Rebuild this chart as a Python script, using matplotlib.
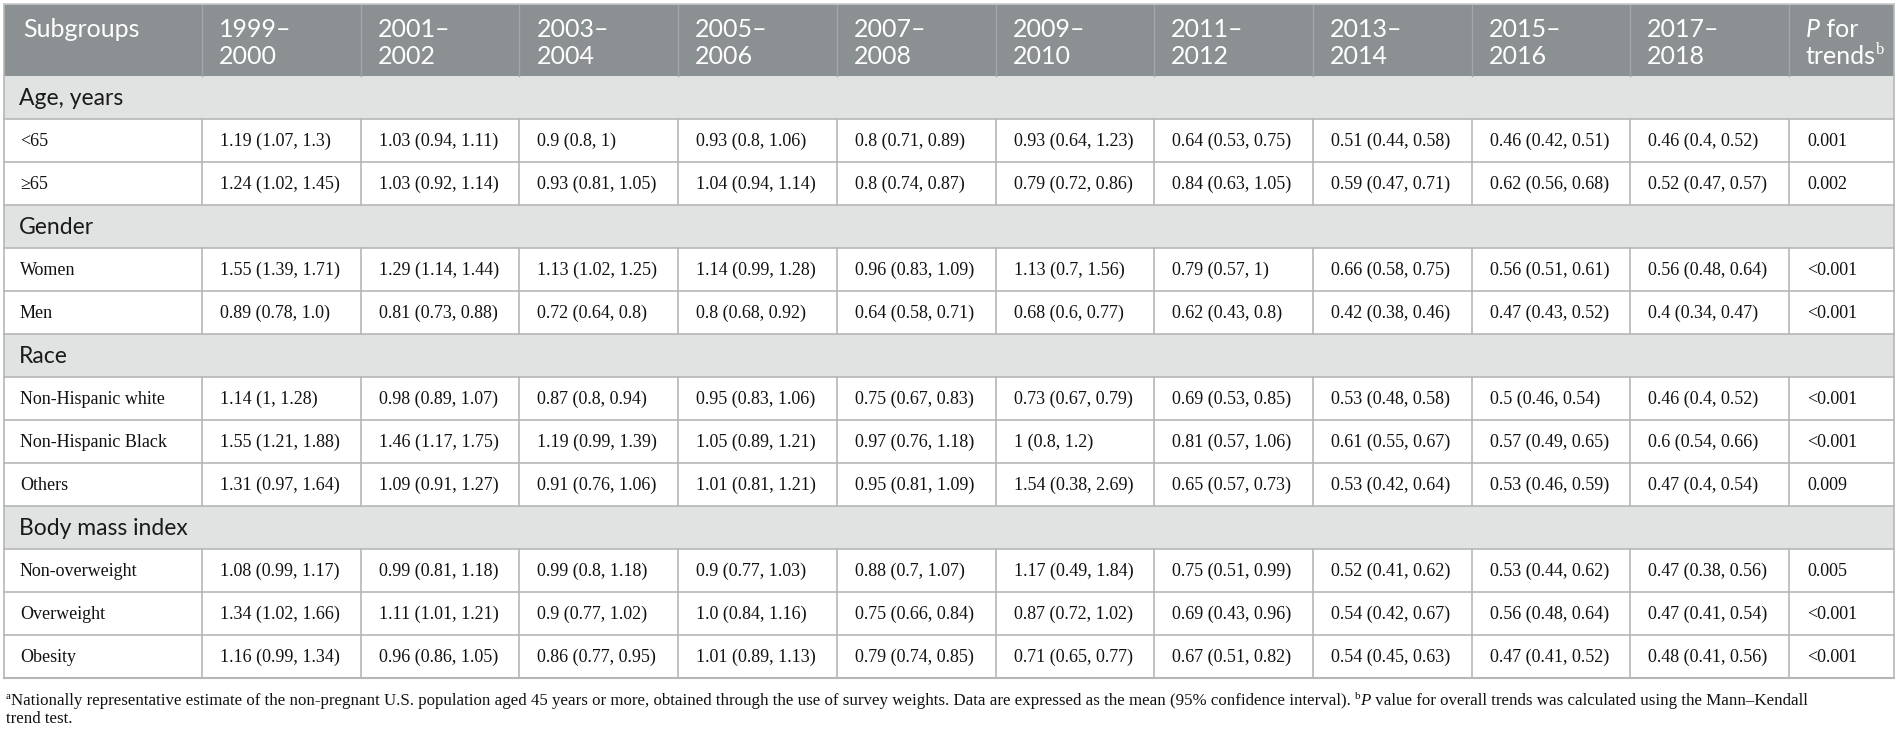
import matplotlib.pyplot as plt
from matplotlib.patches import Rectangle

plt.rcParams['font.family'] = ['Lato', 'DejaVu Sans']

periods = ['1999–\n2000', '2001–\n2002', '2003–\n2004', '2005–\n2006', '2007–\n2008',
           '2009–\n2010', '2011–\n2012', '2013–\n2014', '2015–\n2016', '2017–\n2018']

sections = ['Age, years', 'Gender', 'Race', 'Body mass index']
groups = [['<65', '≥65'],
          ['Women', 'Men'],
          ['Non-Hispanic white', 'Non-Hispanic Black', 'Others'],
          ['Non-overweight', 'Overweight', 'Obesity']]

age_vals = [
    ['1.19 (1.07, 1.3)', '1.03 (0.94, 1.11)', '0.9 (0.8, 1)', '0.93 (0.8, 1.06)', '0.8 (0.71, 0.89)',
     '0.93 (0.64, 1.23)', '0.64 (0.53, 0.75)', '0.51 (0.44, 0.58)', '0.46 (0.42, 0.51)', '0.46 (0.4, 0.52)'],
    ['1.24 (1.02, 1.45)', '1.03 (0.92, 1.14)', '0.93 (0.81, 1.05)', '1.04 (0.94, 1.14)', '0.8 (0.74, 0.87)',
     '0.79 (0.72, 0.86)', '0.84 (0.63, 1.05)', '0.59 (0.47, 0.71)', '0.62 (0.56, 0.68)', '0.52 (0.47, 0.57)'],
]
gender_vals = [
    ['1.55 (1.39, 1.71)', '1.29 (1.14, 1.44)', '1.13 (1.02, 1.25)', '1.14 (0.99, 1.28)', '0.96 (0.83, 1.09)',
     '1.13 (0.7, 1.56)', '0.79 (0.57, 1)', '0.66 (0.58, 0.75)', '0.56 (0.51, 0.61)', '0.56 (0.48, 0.64)'],
    ['0.89 (0.78, 1.0)', '0.81 (0.73, 0.88)', '0.72 (0.64, 0.8)', '0.8 (0.68, 0.92)', '0.64 (0.58, 0.71)',
     '0.68 (0.6, 0.77)', '0.62 (0.43, 0.8)', '0.42 (0.38, 0.46)', '0.47 (0.43, 0.52)', '0.4 (0.34, 0.47)'],
]
race_vals = [
    ['1.14 (1, 1.28)', '0.98 (0.89, 1.07)', '0.87 (0.8, 0.94)', '0.95 (0.83, 1.06)', '0.75 (0.67, 0.83)',
     '0.73 (0.67, 0.79)', '0.69 (0.53, 0.85)', '0.53 (0.48, 0.58)', '0.5 (0.46, 0.54)', '0.46 (0.4, 0.52)'],
    ['1.55 (1.21, 1.88)', '1.46 (1.17, 1.75)', '1.19 (0.99, 1.39)', '1.05 (0.89, 1.21)', '0.97 (0.76, 1.18)',
     '1 (0.8, 1.2)', '0.81 (0.57, 1.06)', '0.61 (0.55, 0.67)', '0.57 (0.49, 0.65)', '0.6 (0.54, 0.66)'],
    ['1.31 (0.97, 1.64)', '1.09 (0.91, 1.27)', '0.91 (0.76, 1.06)', '1.01 (0.81, 1.21)', '0.95 (0.81, 1.09)',
     '1.54 (0.38, 2.69)', '0.65 (0.57, 0.73)', '0.53 (0.42, 0.64)', '0.53 (0.46, 0.59)', '0.47 (0.4, 0.54)'],
]
bmi_vals = [
    ['1.08 (0.99, 1.17)', '0.99 (0.81, 1.18)', '0.99 (0.8, 1.18)', '0.9 (0.77, 1.03)', '0.88 (0.7, 1.07)',
     '1.17 (0.49, 1.84)', '0.75 (0.51, 0.99)', '0.52 (0.41, 0.62)', '0.53 (0.44, 0.62)', '0.47 (0.38, 0.56)'],
    ['1.34 (1.02, 1.66)', '1.11 (1.01, 1.21)', '0.9 (0.77, 1.02)', '1.0 (0.84, 1.16)', '0.75 (0.66, 0.84)',
     '0.87 (0.72, 1.02)', '0.69 (0.43, 0.96)', '0.54 (0.42, 0.67)', '0.56 (0.48, 0.64)', '0.47 (0.41, 0.54)'],
    ['1.16 (0.99, 1.34)', '0.96 (0.86, 1.05)', '0.86 (0.77, 0.95)', '1.01 (0.89, 1.13)', '0.79 (0.74, 0.85)',
     '0.71 (0.65, 0.77)', '0.67 (0.51, 0.82)', '0.54 (0.45, 0.63)', '0.47 (0.41, 0.52)', '0.48 (0.41, 0.56)'],
]
section_vals = [age_vals, gender_vals, race_vals, bmi_vals]
p_trend = [['0.001', '0.002'], ['<0.001', '<0.001'],
           ['<0.001', '<0.001', '0.009'], ['0.005', '<0.001', '<0.001']]

# layout (pixels)
W, H = 1900, 735
left, right = 4, 1894
top, head_bot = 4, 76
row_h = 43
col_edges = [left, 202] + [202 + 158.7 * (i + 1) for i in range(10)] + [right]
head_bg = '#8b9093'
sec_bg = '#e1e2e2'
line_c = '#b4b6b7'
serif = ['Liberation Serif', 'DejaVu Serif']

fig = plt.figure(figsize=(W / 100, H / 100), dpi=100)
ax = fig.add_axes([0, 0, 1, 1])
ax.set_xlim(0, W)
ax.set_ylim(H, 0)
ax.axis('off')
renderer = fig.canvas.get_renderer()


def runs(x, y, parts, **kw):
    # draw text pieces one after another on the same baseline
    for s, extra in parts:
        opts = dict(kw)
        opts.update(extra)
        dy = opts.pop('dy', 0)
        t = ax.text(x, y + dy, s, ha='left', va='baseline', **opts)
        x += t.get_window_extent(renderer).width
    return x


# header
ax.add_patch(Rectangle((left, top), right - left, head_bot - top, color=head_bg, lw=0))
hdr = dict(color='white', fontsize=18)
ax.text(col_edges[0] + 19, 37, 'Subgroups', va='baseline', **hdr)
for i, p in enumerate(periods):
    l1, l2 = p.split('\n')
    ax.text(col_edges[i + 1] + 17, 37, l1, va='baseline', **hdr)
    ax.text(col_edges[i + 1] + 17, 64, l2, va='baseline', **hdr)
px = col_edges[11] + 17
runs(px, 37, [('P', dict(style='italic')), (' for', {})], **hdr)
runs(px, 64, [('trends', {}), ('b', dict(fontsize=12, dy=-10, family=serif))], **hdr)
for xe in col_edges[1:-1]:
    ax.plot([xe, xe], [top, head_bot], color='#a3a7a9', lw=1)

# body
y = head_bot
for sec, labels, vals, ps in zip(sections, groups, section_vals, p_trend):
    ax.add_patch(Rectangle((left, y), right - left, row_h, color=sec_bg, lw=0))
    ax.text(left + 15, y + row_h / 2 + 1, sec, va='center', fontsize=16.5, color='#1a1a1a')
    ax.plot([left, right], [y + row_h, y + row_h], color=line_c, lw=1.2)
    y += row_h
    for lab, row, p in zip(labels, vals, ps):
        ax.text(left + 16, y + row_h / 2 + 1, lab, va='center', fontsize=13,
                family=serif, color='#111111')
        for i, v in enumerate(row):
            ax.text(col_edges[i + 1] + 18, y + row_h / 2 + 1, v, va='center', fontsize=13,
                    family=serif, color='#111111')
        ax.text(col_edges[11] + 18, y + row_h / 2 + 1, p, va='center', fontsize=13,
                family=serif, color='#111111')
        for xe in col_edges[1:-1]:
            ax.plot([xe, xe], [y, y + row_h], color=line_c, lw=1.2)
        ax.plot([left, right], [y + row_h, y + row_h], color=line_c, lw=1.2)
        y += row_h

ax.plot([left, left], [top, y], color=line_c, lw=1.2)
ax.plot([right, right], [top, y], color=line_c, lw=1.2)
ax.plot([left, right], [y, y], color=line_c, lw=1.5)
ax.plot([left, right], [top, top], color='#c8cacb', lw=1.2)

# footnote
fn = dict(fontsize=12.2, family=serif, color='#111111')
sup = dict(fontsize=8, dy=-6)
runs(left + 2, y + 27, [
    ('a', sup),
    ('Nationally representative estimate of the non-pregnant U.S. population aged 45 years or more, '
     'obtained through the use of survey weights. Data are expressed as the mean (95% confidence interval). ', {}),
    ('b', sup), ('P', dict(style='italic')),
    (' value for overall trends was calculated using the Mann–Kendall', {}),
], **fn)
ax.text(left + 2, y + 45, 'trend test.', va='baseline', **fn)

fig.savefig('out.png', dpi=100)
